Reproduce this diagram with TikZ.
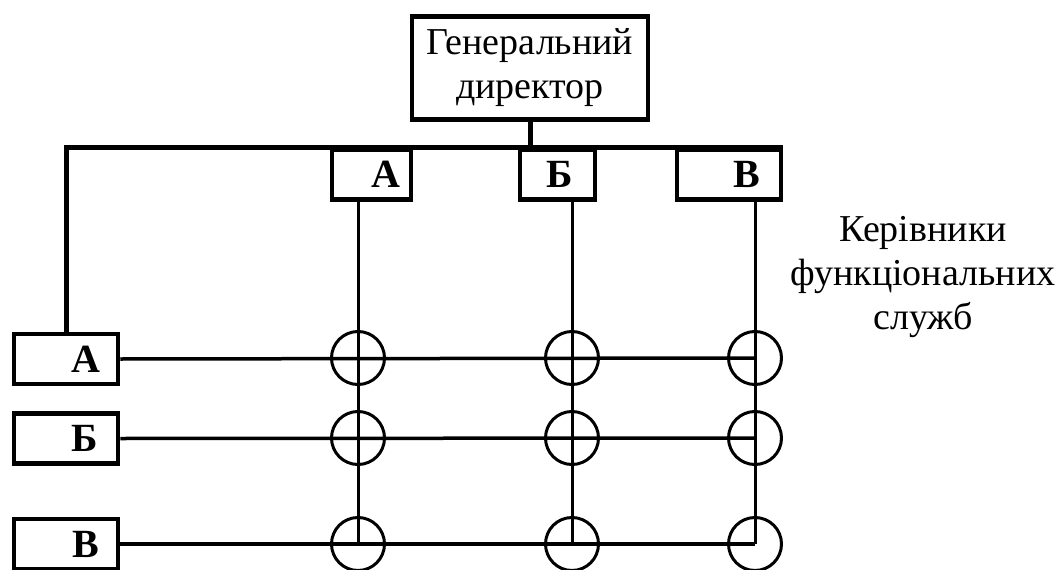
\documentclass[tikz,border=0pt]{standalone}
\usepackage{fontspec}
\setmainfont{Liberation Serif}
\begin{document}
\begin{tikzpicture}[x=1pt,y=-1pt,
  frame/.style={draw,rectangle,line width=4.5pt,inner ysep=0pt},
  unitbox/.style={frame,minimum height=50pt,align=right,
    font=\fontsize{40}{44}\selectfont\bfseries},
  chief/.style={frame,minimum width=236pt,minimum height=103pt,align=center,
    font=\fontsize{38}{44}\selectfont},
  bus/.style={line width=5pt},
  colline/.style={line width=3pt},
  rowline/.style={line width=3.5pt},
  ring/.style={circle,draw,line width=3pt,minimum size=53pt,inner sep=0pt},
  caption/.style={align=center,font=\fontsize{38}{44}\selectfont}]
\useasboundingbox (0,0) rectangle (1058,570);

% general director
\node[chief] (gd) at (530,68) {Генеральний\\директор};

% column heads (top row of units)
\node[unitbox,minimum width=79pt,inner xsep=11pt,text width=57pt] (kA) at (371.5,174.5) {А};
\node[unitbox,minimum width=75pt,inner xsep=22pt,text width=31pt] (kB) at (557.5,174.5) {Б};
\node[unitbox,minimum width=104pt,inner xsep=21pt,text width=62pt] (kV) at (729,174.5) {В};

% row heads (left column of units)
\node[unitbox,minimum width=104pt,inner xsep=18pt,text width=68pt] (rA) at (66,359) {А};
\node[unitbox,minimum width=104pt,inner xsep=20pt,text width=64pt] (rB) at (66,438.5) {Б};
\node[unitbox,minimum width=104pt,inner xsep=19pt,text width=66pt] (rV) at (66,544) {В};

% crossing points
\foreach \r/\y in {1/358,2/438,3/544}{
  \node[ring] (m\r1) at (358,\y) {};
  \node[ring] (m\r2) at (572,\y) {};
  \node[ring] (m\r3) at (755,\y) {};
}

% bus from the director
\draw[bus] (gd.south) -- (gd.south |- kA.north);
\draw[bus] (rA.north) |- (kV.north east);

% columns
\draw[colline] (m11 |- kA.south) -- (m31.center);
\draw[colline] (m12 |- kB.south) -- (m32.center);
\draw[colline] (m13 |- kV.south) -- (m33.center);

% rows
\draw[rowline] (rA.east) -- (m13.center);
\draw[rowline] (rB.east) -- (m23.center);
\draw[rowline] (rV.east) -- (m33.center);

\node[caption] (heads) at (923,277) {Керівники\\функціональних\\служб};
\end{tikzpicture}
\end{document}
